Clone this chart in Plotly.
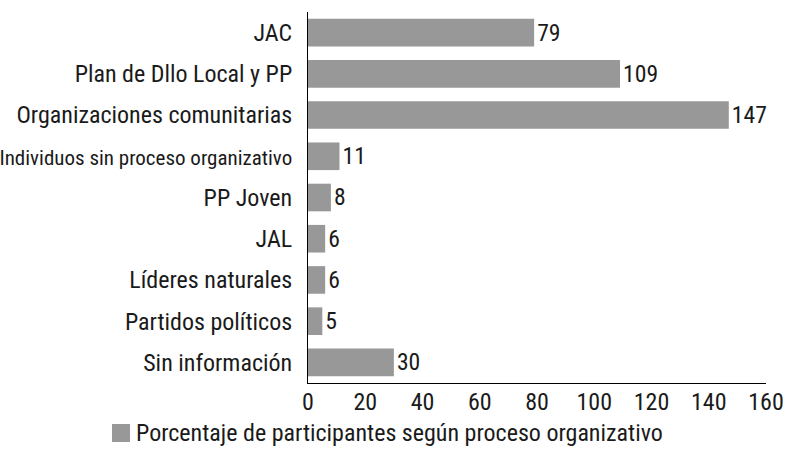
import plotly.graph_objects as go

categories = ["JAC", "Plan de Dllo Local y PP", "Organizaciones comunitarias",
              "Individuos sin proceso organizativo", "PP Joven", "JAL",
              "Líderes naturales", "Partidos políticos", "Sin información"]
values = [79, 109, 147, 11, 8, 6, 6, 5, 30]
series_name = "Porcentaje de participantes según proceso organizativo"
x_ticks = [0, 20, 40, 60, 80, 100, 120, 140, 160]

FONT = "Liberation Sans Narrow, Roboto Condensed, DejaVu Sans Condensed, Arial Narrow, sans-serif"
FS = 24

# the long label is set narrower in the reference
tick_text = [('<span style="font-size:21px">%s</span>' % c) if len(c) > 30 else c
             for c in categories]

# plot area in pixels: x 308..766, y 12..383
L, R, T, B = 308, 766, 12, 383
W, H = R - L, B - T
def px(x): return (x - L) / W
def py(y): return (B - y) / H

fig = go.Figure()
fig.add_trace(go.Bar(
    y=categories, x=values, orientation="h", name=series_name,
    marker=dict(color="#989898", line=dict(width=0)),
    text=[str(v) for v in values], textposition="outside",
    textfont=dict(size=FS, color="#1a1a1a", family=FONT),
    cliponaxis=False, showlegend=False, hoverinfo="skip",
))
# legend drawn manually to match the reference's large swatch
fig.add_shape(type="rect", xref="paper", yref="paper",
              x0=px(112), x1=px(130), y0=py(442), y1=py(424),
              fillcolor="#989898", line=dict(width=0))
fig.add_annotation(xref="paper", yref="paper", x=px(134), y=py(433),
                   xanchor="left", yanchor="middle", showarrow=False,
                   text=series_name, font=dict(size=FS, color="#1a1a1a", family=FONT))
fig.update_layout(
    width=786, height=457,
    margin=dict(l=L, r=786 - R, t=T, b=457 - B, autoexpand=False),
    paper_bgcolor="white", plot_bgcolor="white",
    font=dict(family=FONT, size=FS, color="#1a1a1a"),
    bargap=0.33,
    showlegend=False,
    xaxis=dict(range=[0, 160], tickvals=x_ticks, showgrid=False, zeroline=False,
               showline=True, linecolor="#000", linewidth=1, ticks="",
               automargin=False, ticklabelstandoff=-3, tickfont=dict(size=FS)),
    yaxis=dict(autorange="reversed", showgrid=False, zeroline=False,
               showline=True, linecolor="#000", linewidth=1, ticks="",
               tickmode="array", tickvals=categories, ticktext=tick_text,
               automargin=False, ticklabelstandoff=10, tickfont=dict(size=FS)),
)
fig.write_html("out.html", config={"displayModeBar": False},
               post_script="document.body.style.margin='0';document.body.style.padding='0';")
